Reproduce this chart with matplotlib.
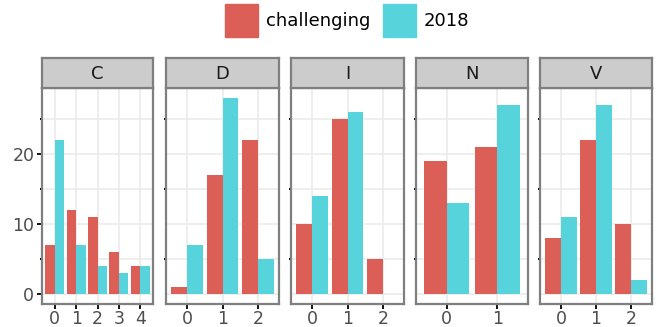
import numpy as np
import matplotlib.pyplot as plt
from matplotlib.patches import Patch

# counts per facet, one list per series
facets = ["C", "D", "I", "N", "V"]
levels_c = ["0", "1", "2", "3", "4"]
levels_d = ["0", "1", "2"]
levels_i = ["0", "1", "2"]
levels_n = ["0", "1"]
levels_v = ["0", "1", "2"]

challenging_c = [7, 12, 11, 6, 4]
challenging_d = [1, 17, 22]
challenging_i = [10, 25, 5]
challenging_n = [19, 21]
challenging_v = [8, 22, 10]

y2018_c = [22, 7, 4, 3, 4]
y2018_d = [7, 28, 5]
y2018_i = [14, 26, 0]
y2018_n = [13, 27]
y2018_v = [11, 27, 2]

levels = [levels_c, levels_d, levels_i, levels_n, levels_v]
challenging = [challenging_c, challenging_d, challenging_i, challenging_n, challenging_v]
y2018 = [y2018_c, y2018_d, y2018_i, y2018_n, y2018_v]

RED = "#db5f57"
CYAN = "#57d3db"
BORDER = "#7f7f7f"
GRID = "#ebebeb"
TXT = "#4d4d4d"

W, H = 658, 327
fig = plt.figure(figsize=(W / 100, H / 100), dpi=100)


def box(l, t, r, b):
    return [l / W, 1 - b / H, (r - l) / W, (b - t) / H]


lefts = [42, 166, 291, 416, 540]
rights = [153, 279, 404, 528, 652]
strip_top, panel_top, panel_bot = 58, 88, 304

for i, name in enumerate(facets):
    l, r = lefts[i], rights[i]
    ax = fig.add_axes(box(l, panel_top, r, panel_bot))
    x = np.arange(len(levels[i]))
    ax.bar(x - 0.225, challenging[i], 0.45, color=RED)
    ax.bar(x + 0.225, y2018[i], 0.45, color=CYAN)
    ax.set_xlim(-0.6, len(x) - 0.4)
    ax.set_ylim(-1.4, 29.4)
    ax.set_axisbelow(True)

    ax.set_xticks(x)
    ax.set_xticklabels(levels[i])
    ax.set_yticks([0, 10, 20])
    ax.set_yticks([5, 15, 25], minor=True)
    ax.grid(True, which="both", color=GRID, linewidth=1.2)
    ax.grid(False, which="minor", axis="x")

    ax.tick_params(axis="x", length=3.5, width=1.3, color="black",
                   labelcolor=TXT, labelsize=12.5, pad=1)
    ax.tick_params(axis="y", which="minor", length=1.2, width=1.5, color="black")
    if i == 0:
        ax.tick_params(axis="y", which="major", length=3.5, width=1.3,
                       color="black", labelcolor=TXT, labelsize=12.5, pad=2)
    else:
        ax.tick_params(axis="y", which="major", length=0, labelleft=False)

    for s in ax.spines.values():
        s.set_color(BORDER)
        s.set_linewidth(1.6)

    # facet strip
    st = fig.add_axes(box(l, strip_top, r, panel_top))
    st.set_facecolor("#cccccc")
    st.set_xticks([])
    st.set_yticks([])
    for s in st.spines.values():
        s.set_color(BORDER)
        s.set_linewidth(1.6)
    st.text(0.5, 0.48, name, ha="center", va="center", fontsize=13,
            color="#1a1a1a", transform=st.transAxes)

handles = [Patch(color=RED, label="challenging"), Patch(color=CYAN, label="2018")]
fig.legend(handles=handles, loc="upper center", bbox_to_anchor=(347 / W, 1.0),
           ncol=2, frameon=False, fontsize=13, handlelength=1.83,
           handleheight=2.45, handletextpad=0.45, columnspacing=0.7,
           borderaxespad=0.1, borderpad=0.1)

fig.savefig("out.png", dpi=100)
